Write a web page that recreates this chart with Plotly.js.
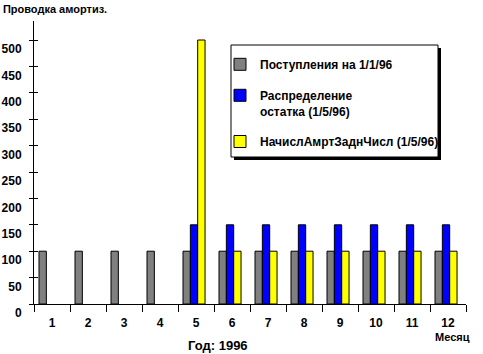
<!DOCTYPE html>
<html><head><meta charset="utf-8">
<script src="https://cdn.plot.ly/plotly-3.0.1.min.js"></script>
<style>html,body{margin:0;padding:0;background:#fff}</style>
</head><body>
<div id="chart" style="width:483px;height:354px"></div>
<script>
// ---- data ----
const months = ['1','2','3','4','5','6','7','8','9','10','11','12'];
const seriesNames = ['Поступления на 1/1/96', 'Распределение<br>остатка (1/5/96)', 'НачислАмртЗаднЧисл (1/5/96)'];
const postupleniya = [100,100,100,100,100,100,100,100,100,100,100,100];
const raspredelenie = [null,null,null,null,150,150,150,150,150,150,150,150];
const nachisl = [null,null,null,null,500,100,100,100,100,100,100,100];
const yTicks = [0,50,100,150,200,250,300,350,400,450,500];
const chartTitle = 'Проводка амортиз.';
const xTitle = 'Год: 1996';
const xUnit = 'Месяц';

const FONT = 'Liberation Sans, Arial, sans-serif';
const colors = ['#808080', '#0000ff', '#ffff00'];
const seriesValues = [postupleniya, raspredelenie, nachisl];
const offsets = [-0.361, -0.157, 0.047];

const traces = seriesValues.map((vals, i) => ({
  type: 'bar',
  x: months,
  y: vals,
  name: seriesNames[i],
  legendgroup: 'g' + i,
  width: 0.204,
  offset: offsets[i],
  marker: {color: colors[i], line: {color: '#000', width: 1}},
  hoverinfo: 'skip'
}));

const yRange = [0, 536];
const toPX = (px) => (px - 34) / 432;
const toPY = (py) => (304 - py) / 283;

const layout = {
  width: 483, height: 354,
  margin: {l: 34, r: 17, t: 21, b: 50},
  paper_bgcolor: '#fff', plot_bgcolor: '#fff',
  font: {family: FONT, size: 12, color: '#000', weight: 'bold'},
  barmode: 'overlay',
  showlegend: true,
  title: {text: chartTitle, x: 0.006, xanchor: 'left', xref: 'container',
          y: 1 - 9/354, yanchor: 'middle', yref: 'container',
          font: {family: FONT, size: 11, color: '#000', weight: 'bold'}},
  xaxis: {type: 'category', range: [-0.5, 11.5], tickson: 'boundaries', ticks: 'outside', ticklen: 7,
          tickcolor: '#000', tickwidth: 1, showline: true, linecolor: '#000', linewidth: 1,
          showgrid: false, zeroline: false, fixedrange: true, ticklabelstandoff: 8,
          tickfont: {family: FONT, size: 12, weight: 'bold'}},
  yaxis: {range: yRange, tickvals: yTicks, ticks: 'outside', ticklen: 4, tickcolor: '#000',
          showline: true, linecolor: '#000', linewidth: 1, showgrid: false, zeroline: false,
          ticklabelshift: 9, ticklabelstandoff: 5, fixedrange: true,
          tickfont: {family: FONT, size: 12, weight: 'bold'}},
  yaxis2: {range: yRange, tickvals: yTicks, ticks: 'inside', ticklen: 4, tickcolor: '#000',
           overlaying: 'y', anchor: 'x', side: 'left', showticklabels: false,
           showline: false, showgrid: false, zeroline: false, fixedrange: true},
  legend: {x: toPX(220), y: toPY(50), xanchor: 'left', yanchor: 'top',
           bgcolor: 'rgba(0,0,0,0)', borderwidth: 0,
           traceorder: 'grouped', tracegroupgap: 12, valign: 'top',
           font: {family: FONT, size: 12, color: '#000', weight: 'bold'}},
  shapes: [
    {type: 'rect', xref: 'paper', yref: 'paper', layer: 'above',
     x0: toPX(234), x1: toPX(441), y0: toPY(160), y1: toPY(48),
     fillcolor: '#000', line: {width: 0}},
    {type: 'rect', xref: 'paper', yref: 'paper', layer: 'above',
     x0: toPX(231), x1: toPX(438), y0: toPY(157), y1: toPY(45),
     fillcolor: '#fff', line: {color: '#000', width: 1}}
  ],
  annotations: [
    {text: xTitle, xref: 'paper', yref: 'paper', x: toPX(218), y: toPY(345),
     xanchor: 'center', yanchor: 'middle', showarrow: false,
     font: {family: FONT, size: 13, weight: 'bold'}},
    {text: xUnit, xref: 'paper', yref: 'paper', x: toPX(452), y: toPY(337),
     xanchor: 'center', yanchor: 'middle', showarrow: false,
     font: {family: FONT, size: 11, weight: 'bold'}}
  ]
};

// helper trace (no data) so the overlaid axis draws the inner half of the crossing y ticks
traces.push({type: 'scatter', x: [months[0]], y: [null], yaxis: 'y2', showlegend: false, hoverinfo: 'skip'});

Plotly.newPlot('chart', traces, layout, {staticPlot: true, displayModeBar: false});
</script>
</body></html>
